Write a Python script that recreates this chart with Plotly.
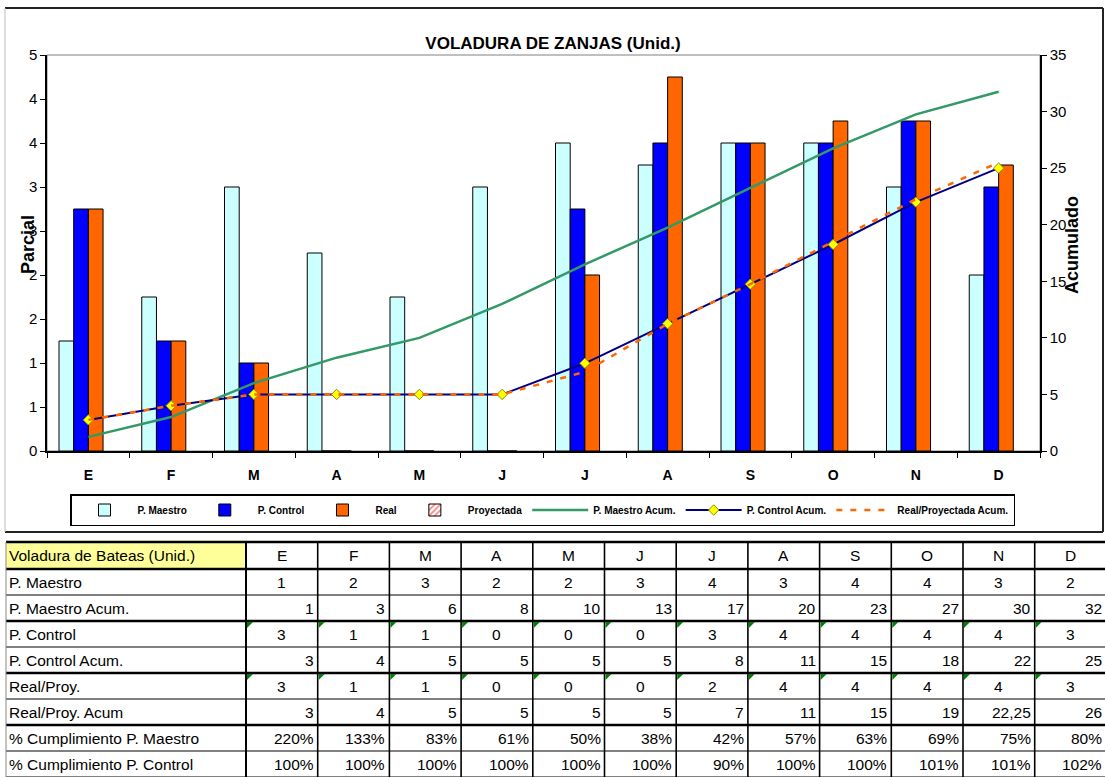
import plotly.graph_objects as go

W, H = 1105, 777
FONT = "Liberation Sans, Arial, sans-serif"

# ---- chart data -------------------------------------------------------
months = ["E", "F", "M", "A", "M", "J", "J", "A", "S", "O", "N", "D"]

maestro = [1.25, 1.75, 3.0, 2.25, 1.75, 3.0, 3.5, 3.25, 3.5, 3.5, 3.0, 2.0]
control = [2.75, 1.25, 1.0, 0, 0, 0, 2.75, 3.5, 3.5, 3.5, 3.75, 3.0]
real = [2.75, 1.25, 1.0, 0, 0, 0, 2.0, 4.25, 3.5, 3.75, 3.75, 3.25]
proyectada = [None] * 12

maestro_acum = [1.25, 3.0, 6.0, 8.25, 10.0, 13.0, 16.5, 19.75, 23.25, 26.75, 29.75, 31.75]
control_acum = [2.75, 4.0, 5.0, 5.0, 5.0, 5.0, 7.75, 11.25, 14.75, 18.25, 22.0, 25.0]
real_acum = [2.75, 4.0, 5.0, 5.0, 5.0, 5.0, 7.0, 11.25, 14.75, 18.5, 22.25, 25.5]

left_tickvals = [0, 0.5, 1, 1.5, 2, 2.5, 3, 3.5, 4, 4.5]
left_ticktext = ["0", "1", "1", "2", "2", "3", "3", "4", "4", "5"]
right_tickvals = [0, 5, 10, 15, 20, 25, 30, 35]

# ---- table data -------------------------------------------------------
table_title = "Voladura de Bateas (Unid.)"
row_labels = [
    "P. Maestro", "P. Maestro Acum.", "P. Control", "P. Control Acum.",
    "Real/Proy.", "Real/Proy. Acum", "% Cumplimiento P. Maestro",
    "% Cumplimiento P. Control",
]
tabla_maestro = ["1", "2", "3", "2", "2", "3", "4", "3", "4", "4", "3", "2"]
tabla_maestro_acum = ["1", "3", "6", "8", "10", "13", "17", "20", "23", "27", "30", "32"]
tabla_control = ["3", "1", "1", "0", "0", "0", "3", "4", "4", "4", "4", "3"]
tabla_control_acum = ["3", "4", "5", "5", "5", "5", "8", "11", "15", "18", "22", "25"]
tabla_real = ["3", "1", "1", "0", "0", "0", "2", "4", "4", "4", "4", "3"]
tabla_real_acum = ["3", "4", "5", "5", "5", "5", "7", "11", "15", "19", "22,25", "26"]
tabla_pct_maestro = ["220%", "133%", "83%", "61%", "50%", "38%", "42%", "57%", "63%", "69%", "75%", "80%"]
tabla_pct_control = ["100%", "100%", "100%", "100%", "100%", "100%", "90%", "100%", "100%", "101%", "101%", "102%"]

table_rows = [tabla_maestro, tabla_maestro_acum, tabla_control, tabla_control_acum,
              tabla_real, tabla_real_acum, tabla_pct_maestro, tabla_pct_control]
row_align = ["center", "right", "center", "right", "center", "right", "right", "right"]
flagged_rows = [2, 4]          # rows whose cells carry the green corner flag
thick_after = [1, 3, 5]        # data rows followed by a heavy rule


def px(x):
    return x / W


def py(y):
    return 1 - y / H


# plot-area placement (pixels)
PL, PR, PT, PB = 47, 1040, 55, 451

x = list(range(len(months)))
fig = go.Figure()

bar_line = dict(color="black", width=1)
fig.add_bar(x=x, y=maestro, name="P. Maestro",
            marker=dict(color="#CCFFFF", line=bar_line))
fig.add_bar(x=x, y=control, name="P. Control",
            marker=dict(color="#0000FF", line=bar_line))
fig.add_bar(x=x, y=real, name="Real",
            marker=dict(color="#FF6600", line=bar_line))
fig.add_bar(x=x, y=proyectada, name="Proyectada",
            marker=dict(color="white", line=bar_line,
                        pattern=dict(shape="/", fgcolor="#FF0000", bgcolor="white",
                                     size=5, solidity=0.4)))

fig.add_scatter(x=x, y=maestro_acum, name="P. Maestro Acum.", yaxis="y2",
                mode="lines", line=dict(color="#339966", width=2.5))
fig.add_scatter(x=x, y=control_acum, name="P. Control Acum.", yaxis="y2",
                mode="lines+markers", line=dict(color="#000080", width=2),
                marker=dict(symbol="diamond", size=8, color="#FFFF00",
                            line=dict(color="#8C8C00", width=1)))
fig.add_scatter(x=x, y=real_acum, name="Real/Proyectada Acum.", yaxis="y2",
                mode="lines", line=dict(color="#FF6600", width=2.5, dash="6px,8px"))

shapes = []
annotations = []

# plot-area frame (grey) beneath the black axis lines
shapes.append(dict(type="rect", xref="x domain", yref="y domain", x0=0, x1=1, y0=0, y1=1,
                   line=dict(color="#808080", width=1), layer="below"))

# chart-area border
shapes.append(dict(type="line", xref="paper", yref="paper", x0=px(5), x1=px(1103),
                   y0=py(8), y1=py(8), line=dict(color="#222222", width=2)))
shapes.append(dict(type="line", xref="paper", yref="paper", x0=px(1103), x1=px(1103),
                   y0=py(8), y1=py(532), line=dict(color="#222222", width=2)))
shapes.append(dict(type="line", xref="paper", yref="paper", x0=px(5), x1=px(1103),
                   y0=py(532), y1=py(532), line=dict(color="#222222", width=2)))
shapes.append(dict(type="line", xref="paper", yref="paper", x0=px(5), x1=px(5),
                   y0=py(8), y1=py(532), line=dict(color="#BBBBBB", width=1)))

# axis titles
annotations.append(dict(text="<b>Parcial</b>", x=px(28), y=py(245), xref="paper", yref="paper",
                        xanchor="center", yanchor="middle", showarrow=False, textangle=-90,
                        font=dict(family=FONT, size=18, color="black")))
annotations.append(dict(text="<b>Acumulado</b>", x=px(1072), y=py(245), xref="paper",
                        yref="paper", xanchor="center", yanchor="middle", showarrow=False,
                        textangle=-90, font=dict(family=FONT, size=18, color="black")))

# ---- table ------------------------------------------------------------
T_TOP, HDR_H, ROW_H = 542, 27, 26
LAB_X0, LAB_X1, COL_W = 6, 246, 71.7
n_cols = len(months)
row_edges = [T_TOP, T_TOP + HDR_H] + [T_TOP + HDR_H + ROW_H * (i + 1) for i in range(len(row_labels))]
col_edges = [LAB_X1 + COL_W * i for i in range(n_cols + 1)]
tfont = dict(family=FONT, size=15.5, color="black")

# yellow title cell
shapes.append(dict(type="rect", xref="paper", yref="paper", x0=px(LAB_X0), x1=px(LAB_X1),
                   y0=py(row_edges[0]), y1=py(row_edges[1]), fillcolor="#FFFF99",
                   line=dict(width=0), layer="below"))

# horizontal rules
heavy = {0, 1} | {i + 2 for i in thick_after}
for i, ye in enumerate(row_edges):
    w = 2.5 if i in heavy else 1
    shapes.append(dict(type="line", xref="paper", yref="paper", x0=px(LAB_X0), x1=px(W),
                       y0=py(ye), y1=py(ye), line=dict(color="black", width=w)))
# vertical rules
shapes.append(dict(type="line", xref="paper", yref="paper", x0=px(LAB_X0), x1=px(LAB_X0),
                   y0=py(row_edges[0]), y1=py(H), line=dict(color="#888888", width=1)))
for j, xe in enumerate(col_edges):
    shapes.append(dict(type="line", xref="paper", yref="paper", x0=px(xe), x1=px(xe),
                       y0=py(row_edges[0]), y1=py(H),
                       line=dict(color="black", width=2 if j == 0 else 1.6)))


def cell_text(text, xx, yy, anchor):
    annotations.append(dict(text=text, x=px(xx), y=py(yy), xref="paper", yref="paper",
                            xanchor=anchor, yanchor="middle", showarrow=False, font=tfont))


# header row text
hy = (row_edges[0] + row_edges[1]) / 2
cell_text(table_title, LAB_X0 + 1, hy, "left")
for j, m in enumerate(months):
    cell_text(m, (col_edges[j] + col_edges[j + 1]) / 2, hy, "center")

# body rows
for i, (lab, vals) in enumerate(zip(row_labels, table_rows)):
    yc = (row_edges[i + 1] + row_edges[i + 2]) / 2
    cell_text(lab, LAB_X0 + 1, yc, "left")
    for j, v in enumerate(vals):
        if row_align[i] == "center":
            cell_text(v, (col_edges[j] + col_edges[j + 1]) / 2, yc, "center")
        else:
            cell_text(v, col_edges[j + 1] - 2, yc, "right")
        if i in flagged_rows:
            x0, y0 = col_edges[j] + 1, row_edges[i + 1] + 1
            shapes.append(dict(type="path", xref="paper", yref="paper",
                               path=f"M {px(x0)},{py(y0)} L {px(x0 + 6)},{py(y0)} L {px(x0)},{py(y0 + 6)} Z",
                               fillcolor="#008000", line=dict(width=0)))

fig.update_layout(
    width=W, height=H,
    margin=dict(l=0, r=0, t=0, b=0, autoexpand=False),
    paper_bgcolor="white", plot_bgcolor="white",
    barmode="group", bargap=0.29, bargroupgap=0,
    font=dict(family=FONT, color="black"),
    title=dict(text="<b>VOLADURA DE ZANJAS (Unid.)</b>", x=px(553), xanchor="center",
               y=py(43), yanchor="middle", font=dict(family=FONT, size=17, color="black")),
    xaxis=dict(domain=[px(PL), px(PR)], range=[-0.5, len(months) - 0.5], automargin=False,
               tickmode="array", tickvals=x, ticktext=months, ticks="",
               tickfont=dict(family=FONT, size=14, color="black", weight="bold"),
               showline=True, linecolor="black", linewidth=1.5, showgrid=False,
               zeroline=False, ticklabelstandoff=10,
               minor=dict(tick0=-0.5, dtick=1, ticks="outside", ticklen=5,
                          tickcolor="black", showgrid=False)),
    yaxis=dict(domain=[py(PB), py(PT)], range=[0, 4.5], tickmode="array", automargin=False,
               tickvals=left_tickvals, ticktext=left_ticktext, ticks="outside",
               ticklen=5, tickcolor="black", showline=True, linecolor="black",
               linewidth=1.5, showgrid=False, zeroline=False,
               tickfont=dict(family=FONT, size=15, color="black")),
    yaxis2=dict(overlaying="y", side="right", range=[0, 35], tickmode="array", automargin=False,
                tickvals=right_tickvals, ticks="outside", ticklen=5, tickcolor="black",
                showline=True, linecolor="black", linewidth=1.5, showgrid=False,
                zeroline=False, anchor="x",
                tickfont=dict(family=FONT, size=15, color="black")),
    legend=dict(orientation="h", x=px(70), y=py(494), xanchor="left", yanchor="top",
                bordercolor="black", borderwidth=1.5, bgcolor="white",
                itemwidth=56,
                font=dict(family=FONT, size=10, color="black", weight="bold"),
                tracegroupgap=0),
    shapes=shapes,
    annotations=annotations,
)

fig.write_html("out.html")
